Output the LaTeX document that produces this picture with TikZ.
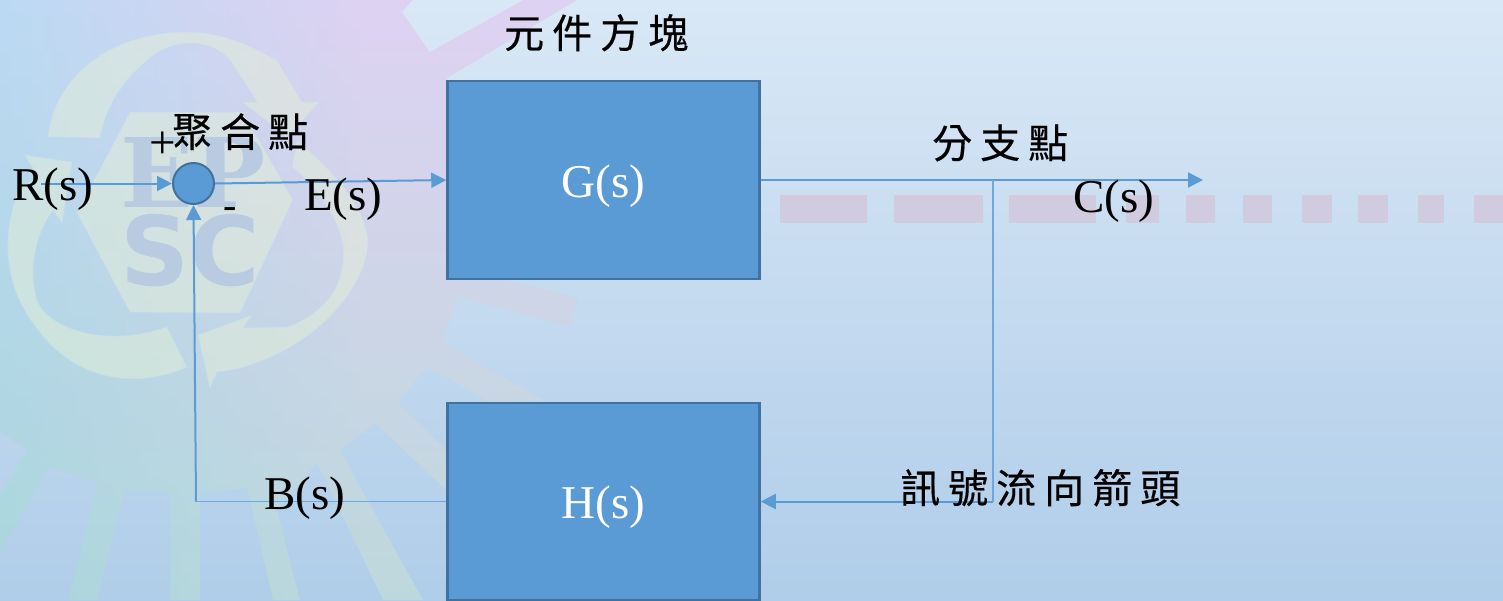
\documentclass[tikz,border=0pt]{standalone}
\usepackage{fontspec}
\setmainfont{Liberation Serif}
\newfontfamily\cjk[LetterSpace=20,FakeBold=0.4]{Noto Sans CJK TC}
\newfontfamily\wmsans{DejaVu Sans}
\newfontfamily\wmserif{DejaVu Serif}
\usetikzlibrary{arrows.meta,fadings}
\definecolor{boxfill}{HTML}{5B9BD5}
\definecolor{boxline}{HTML}{41719C}
\definecolor{wire}{HTML}{5B9BD5}
\definecolor{wirethin}{HTML}{6FA8DC}
\definecolor{recyc}{HTML}{E4EFD8}
\definecolor{recycedge}{HTML}{C4DCF0}
\definecolor{wmtext}{HTML}{B8CBE0}
\definecolor{dashpink}{HTML}{D0CBDF}
\definecolor{bgtop}{RGB}{217,232,246}
\definecolor{bgbot}{RGB}{176,205,233}
\definecolor{suntop}{RGB}{222,210,242}
\definecolor{sunmid}{RGB}{204,207,224}
\definecolor{sunbot}{RGB}{189,216,220}
\definecolor{lefttop}{RGB}{188,218,244}
\definecolor{leftmid}{RGB}{180,226,236}
\definecolor{leftbot}{RGB}{170,214,220}
\tikzfading[name=fadeToRight,left color=transparent!0,right color=transparent!100]
\tikzset{
  blockbox/.style={draw=boxline,line width=2.5pt,fill=boxfill,text=white,inner sep=0pt,minimum width=312pt,font=\fontsize{47}{47}\selectfont},
  sumnode/.style={circle,draw=boxline,line width=2pt,fill=boxfill,inner sep=0pt,minimum size=41pt},
  lbl/.style={anchor=base west,inner sep=0pt,text=black,font=\fontsize{47}{47}\selectfont},
  cjklbl/.style={anchor=base west,inner sep=0pt,text=black,font=\cjk\fontsize{40}{40}\selectfont},
  flow/.style={draw=wire,line width=2pt,-{Triangle[length=15pt,width=15pt]}},
  thinwire/.style={draw=wirethin,line width=1.2pt},
  recycshape/.style={fill=recyc,fill opacity=.5,draw=recycedge,draw opacity=.55,line width=1pt},
  wmark/.style={inner sep=0pt,text=wmtext,anchor=base west},
  pinkdash/.style={fill=dashpink}
}
\newcommand{\lowered}[1]{\raisebox{-17pt}[0pt][0pt]{#1}}
\begin{document}
\begin{tikzpicture}[x=1pt,y=-1pt]
\useasboundingbox (0,0) rectangle (1503,600);
% background
\shade[top color=bgtop,bottom color=bgbot] (0,0) rectangle (1503,600);
% coloured sun
\begin{scope}
\clip (0,0)--(577,0)--(447,78)--(447,278)--(507,280)--(578,298)--(570,327)--(458,297)--(442,342)--(543,400)--(447,403)--(447,600)--(0,600)--cycle;
\shade[top color=suntop,middle color=sunmid,bottom color=sunbot] (0,0) rectangle (600,600);
\shade[top color=lefttop,middle color=leftmid,bottom color=leftbot,path fading=fadeToRight] (0,0) rectangle (360,600);
\end{scope}
% gaps between the rays
\begin{scope}
\clip (402,12)--(430,52)--(523,0)--(413,0)--cycle
 (0,432)--(27,450)--(0,497)--cycle
 (50,467)--(98,482)--(68,600)--(0,600)--(0,553)--cycle
 (125,490)--(170,493)--(170,600)--(97,600)--cycle
 (200,494)--(247,488)--(273,600)--(200,600)--cycle
 (277,510)--(317,463)--(383,600)--(300,600)--cycle
 (340,450)--(375,423)--(446,490)--(446,600)--(423,600)--cycle
 (398,402)--(427,367)--(490,402)--(446,450)--cycle;
\shade[top color=bgtop,bottom color=bgbot] (0,0) rectangle (1503,600);
\end{scope}
% recycling mark
\path[recycshape] (130,112)--(243,112)--(293,200)--(240,313)--(130,312)--(77,213)--cycle;
\path[recycshape] (48,137) .. controls (55,70) and (120,30) .. (190,32) .. controls (235,33) and (265,55) .. (277,60) -- (302,102) -- (320,102) -- (287,137) -- (242,102) -- (257,102) -- (230,60) .. controls (210,38) and (170,35) .. (140,67) .. controls (120,85) and (105,110) .. (100,138) -- cycle;
\path[recycshape] (25,155)--(72,162)--(62,223)--(53,210) .. controls (35,235) and (28,270) .. (37,300) .. controls (45,325) and (100,350) .. (167,327) -- (187,367) .. controls (140,388) and (75,385) .. (33,323) .. controls (5,285) and (0,235) .. (20,187) -- (38,177) -- cycle;
\path[recycshape] (292,167)--(297,140) .. controls (320,160) and (365,200) .. (368,240) .. controls (368,300) and (290,365) .. (217,372) -- (210,388) -- (198,335) -- (252,315) -- (243,328) -- (287,327) .. controls (320,315) and (345,290) .. (343,250) .. controls (342,225) and (320,190) .. (292,167) -- cycle;
% watermark letters
\node[wmark,font=\wmserif\bfseries\fontsize{96}{96}\selectfont] (wmEP) at (120,207) {EP};
\node[wmark,font=\wmsans\bfseries\fontsize{96}{96}\selectfont] (wmSC) at (120,285) {SC};
% dashed line of the watermark
\foreach \xa/\xb in {780/867,894/983,1009/1096,1126/1159,1186/1215,1243/1272,1302/1332,1358/1388,1418/1444,1474/1503}
  \path[pinkdash] (\xa,195) rectangle (\xb,223);
% blocks
\node[blockbox,minimum height=198pt] (G) at (603.5,180) {\lowered{G(s)}};
\node[blockbox,minimum height=197pt] (H) at (603.5,501.5) {\lowered{H(s)}};
\node[sumnode] (sum) at (193.5,183.5) {};
\coordinate (rin) at (41,183.5);
\coordinate (cout) at (1203,180);
\coordinate (br) at (993,180);
\coordinate (brd) at (993,501.5);
\coordinate (fb) at (196,501.5);
% connectors
\draw[flow] (rin) -- (sum.west);
\draw[flow] (sum.east) -- (G.west);
\draw[flow] (G.east) -- (cout);
\draw[thinwire] (br) -- (brd);
\draw[flow] (brd) -- (H.east);
\draw[thinwire] (H.west) -- (fb);
\draw[flow] (fb) -- (sum.south);
% labels
\node[lbl] (lR) at (12,200) {R(s)};
\node[lbl] (lE) at (304,210) {E(s)};
\node[lbl] (lC) at (1073,212) {C(s)};
\node[lbl] (lB) at (264,509) {B(s)};
\node[lbl] (plus) at (149,158) {+};
\node[lbl,font=\fontsize{40}{40}\selectfont] (minus) at (223,218) {-};
\node[cjklbl] (t1) at (504,48) {元件方塊};
\node[cjklbl] (t2) at (172,147) {聚合點};
\node[cjklbl] (t3) at (932,158) {分支點};
\node[cjklbl] (t4) at (900,503) {訊號流向箭頭};
\end{tikzpicture}
\end{document}
